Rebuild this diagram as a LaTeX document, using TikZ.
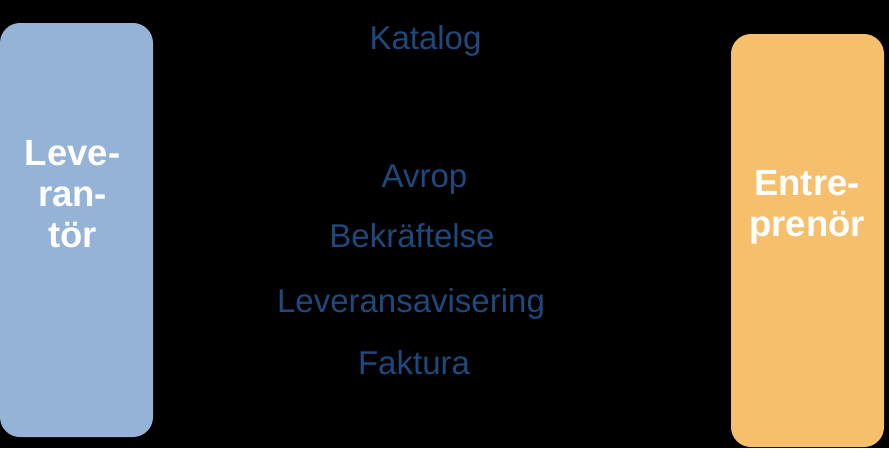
\documentclass[tikz,border=0pt]{standalone}
\usepackage{fontspec}
\setmainfont{Liberation Sans}
\usepackage{tikz}
\usetikzlibrary{positioning}

\definecolor{levblue}{RGB}{149,179,215}
\definecolor{entorange}{RGB}{245,191,107}
\definecolor{msgblue}{RGB}{31,73,125}

\begin{document}
\begin{tikzpicture}[x=1pt,y=-1pt,inner sep=0pt,outer sep=0pt]
  \tikzstyle{party}=[rectangle,rounded corners=20pt,minimum width=153pt]
  \tikzstyle{partytext}=[text=white,align=center,anchor=base,
                         font=\fontsize{36.5}{41}\selectfont\bfseries]
  \tikzstyle{msg}=[text=msgblue,anchor=base,font=\fontsize{33}{36}\selectfont]

  \fill[black] (0,0) rectangle (889,448);

  \node[party,fill=levblue,minimum height=414pt]   (lev) at (76.5,230) {};
  \node[party,fill=entorange,minimum height=413pt] (ent) at (807.5,240.5) {};

  % base = baseline of the last line
  \node[partytext] (levtext) at (72.5,247) {Leve-\\ran-\\tör};
  \node[partytext] (enttext) at (807,236)  {Entre-\\prenör};

  \node[msg] (katalog) at (425.5,49) {Katalog};
  \node[msg] (avrop)   at (424.5,187) {Avrop};
  \node[msg] (bekr)    at (412,247) {Bekräftelse};
  \node[msg] (levavi)  at (411,312) {Leveransavisering};
  \node[msg] (faktura) at (414,374) {Faktura};

\end{tikzpicture}
\end{document}
